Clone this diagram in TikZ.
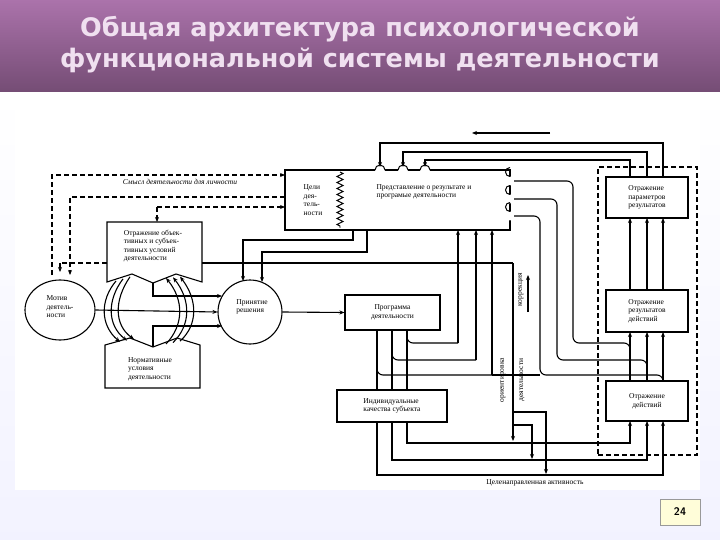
\documentclass[tikz,border=0pt]{standalone}
\usepackage{fontspec}
\setmainfont{Liberation Serif}
\newfontfamily\titlefont{DejaVu Sans}
\usetikzlibrary{arrows.meta,decorations.pathmorphing,shapes.geometric}
\begin{document}
\begin{tikzpicture}[x=1pt,y=-1pt,
  ln/.style={line width=1.1pt},
  ar/.style={line width=1.1pt,-{Stealth[length=5pt,width=4pt]}},
  dsh/.style={line width=1.1pt,dash pattern=on 5pt off 3pt},
  dar/.style={dsh,-{Stealth[length=5pt,width=4pt]}},
  bx/.style={draw,line width=1.1pt,fill=white,font=\fontsize{7.5}{8.5}\selectfont,align=left,inner sep=2pt},
  txt/.style={font=\fontsize{7.5}{8.5}\selectfont,align=left,inner sep=1pt}]
\useasboundingbox (0,0) rectangle (720,540);
% backgrounds
\fill[top color=white,bottom color=white!80!blue!25!white] (0,92) rectangle (720,540);
\shade[top color=black!20!violet!55!white,bottom color=violet!45!black!70] (0,0) rectangle (720,92);
\fill[white] (15,108) rectangle (700,490);
\node (title) [font=\titlefont\bfseries\fontsize{25.5}{31}\selectfont,text=white!88!violet,align=center] at (360,45) {Общая архитектура психологической\\функциональной системы деятельности};
\node (pg) [draw=black!40,fill=yellow!15,font=\sffamily\bfseries\fontsize{11}{12}\selectfont,minimum width=40pt,minimum height=26pt] at (680,512) {24};

% main top box
\node (pred) [draw,line width=1.1pt,fill=white,minimum width=225pt,minimum height=60pt] at (397.5,200) {};
\draw[line width=0.9pt,decorate,decoration={zigzag,segment length=6pt,amplitude=3pt}] (340,172) -- (340,228);
\node (celi) [txt] at (313,200) {Цели\\дея-\\тель-\\ности};
\node (predt) [txt] at (424,192) {Представление о результате и\\програмые деятельности};
\foreach \x in {380,403,425} \fill[white] (\x,170) circle (5pt);
\foreach \x in {380,403,425} \draw[line width=1pt] (\x-5,170) arc (180:0:5 and -5);
\foreach \y in {181,199,216} {\fill[white] (510,\y) circle (4.5pt); \draw[line width=1pt] (510,\y-4.5) arc (-90:90:-4.5);}

% right dashed box
\node (rbox) [draw,dsh,minimum width=99pt,minimum height=288pt] at (647.5,311) {};
\node (par) [bx,minimum width=82pt,minimum height=41pt] at (647,197.5) {Отражение\\параметров\\результатов};
\node (res) [bx,minimum width=82pt,minimum height=42pt] at (647,311) {Отражение\\результатов\\действий};
\node (dei) [bx,align=center,minimum width=82pt,minimum height=40pt] at (647,401) {Отражение\\действий};

% other boxes
\node (prog) [bx,align=center,minimum width=95pt,minimum height=35pt] at (392.5,312.5) {Программа\\деятельности};
\node (motiv) [draw,line width=1.1pt,ellipse,minimum width=70pt,minimum height=60pt,inner sep=0pt] at (60,310) {};
\node (motivt) [txt] at (60,307) {Мотив\\деятель-\\ности};
\node (prin) [draw,line width=1.1pt,circle,minimum size=64pt,inner sep=0pt] at (250,312) {};
\node (print) [txt] at (252,307) {Принятие\\решения};

% Otrazhenie usloviy box (notched bottom)
\draw[line width=1.1pt,fill=white] (107,222) -- (202,222) -- (202,282) -- (176,274) -- (153,283) -- (132,274) -- (107,282) -- cycle;
\node (usl) [txt] at (153,246) {Отражение объек-\\тивных и субъек-\\тивных условий\\деятельности};
\coordinate (uslB) at (153,283);
% Normativnye box (notched top)
\draw[line width=1.1pt,fill=white] (105,388) -- (200,388) -- (200,345) -- (177,338) -- (153,347) -- (130,338) -- (105,345) -- cycle;
\node (norm) [txt] at (150,369) {Нормативные\\условия\\деятельности};
\coordinate (normT) at (153,347);

% arcs between the two boxes
\foreach \d in {0,7,14} {
 \draw[ar] (116+\d,281-\d*0.3) .. controls (100+\d,300) and (100+\d,325) .. (120+\d,342-\d*0.2);
 \draw[ar] (166+\d,344-\d*0.2) .. controls (184+\d,325) and (184+\d,300) .. (166+\d,278-\d*0.1);
}
% arrows to Prinyatie
\draw[ar] (motiv.east) -- (prin.west);
\draw[ar] (uslB) -- (153,296) -- (222,296);
\draw[ar] (normT) -- (153,326) -- (222,326);
\draw[ar] (prin.east) -- (prog.west);

% dashed lines
\draw[dar] (52,275) -- (52,175) -- (285,175);
\node (smysl) [txt,font=\itshape\fontsize{7.5}{8.5}\selectfont] at (180,182) {Смысл деятельности для личности};
\draw[dar] (285,197) -- (70,197) -- (70,275);
\draw[dar] (157,207) -- (285,207);
\draw[dar] (157,207) -- (157,222);
\draw[dsh] (107,263) -- (60,263);
\draw[dar] (60,263) -- (60,272);

% from goals to Prinyatie
\draw[ar] (353,230) -- (353,240) -- (243,240) -- (243,281);
\draw[ar] (367,230) -- (367,252) -- (262,252) -- (262,282);
\draw[ln] (202,263) -- (513,263);
\draw[ar] (513,263) -- (513,441);
\draw[ar] (513,412) -- (546,412) -- (546,474);
\draw[ar] (513,425) -- (532,425) -- (532,459);
\draw[ar] (528,312) -- (528,275);
\node (korr) [txt,rotate=90] at (521,290) {коррекция};
\node (orient) [txt,rotate=90] at (503,380) {ориентировка};
\node (deyat) [txt,rotate=90] at (522,380) {деятельности};

% top feedback loops
\draw[ar] (663,177) -- (663,143) -- (380,143) -- (380,167);
\draw[ar] (647,177) -- (647,152) -- (403,152) -- (403,167);
\draw[ar] (630,177) -- (630,160) -- (425,160) -- (425,167);
\draw[ar] (550,133) -- (472,133);

% between right boxes
\foreach \x in {630,647,663} {
 \draw[ar] (\x,290) -- (\x,218);
 \draw[ar] (\x,381) -- (\x,332);
}
% right side of pred going down
\draw[ln,rounded corners=6pt] (514,181) -- (573,181) -- (573,343) -- (630,343) -- (630,355);
\draw[ln,rounded corners=6pt] (514,199) -- (557,199) -- (557,360) -- (647,360) -- (647,370);
\draw[ln,rounded corners=6pt] (514,216) -- (540,216) -- (540,375) -- (663,375) -- (663,381);

% program to representation
\draw[ln,rounded corners=6pt] (407,330) -- (407,343) -- (458,343);
\draw[ar] (458,343) -- (458,230);
\draw[ln,rounded corners=6pt] (392,330) -- (392,360) -- (476,360);
\draw[ar] (476,360) -- (476,230);
\draw[ln,rounded corners=6pt] (377,330) -- (377,375) -- (492,375);
\draw[ar] (492,375) -- (492,230);
\draw[ln] (492,375) -- (540,375);

% program down to actions
\draw[ln] (407,330) -- (407,390);
\draw[ln] (392,330) -- (392,390);
\draw[ln] (377,330) -- (377,390);
\node (ind) [bx,minimum width=110pt,minimum height=32pt] at (392,406) {Индивидуальные\\качества субъекта};
\draw[ar] (407,422) -- (407,443) -- (630,443) -- (630,421);
\draw[ar] (392,422) -- (392,460) -- (647,460) -- (647,421);
\draw[ar] (377,422) -- (377,475) -- (663,475) -- (663,421);
\node (cel) [txt,fill=white] at (535,483) {Целенаправленная активность};
\end{tikzpicture}
\end{document}
